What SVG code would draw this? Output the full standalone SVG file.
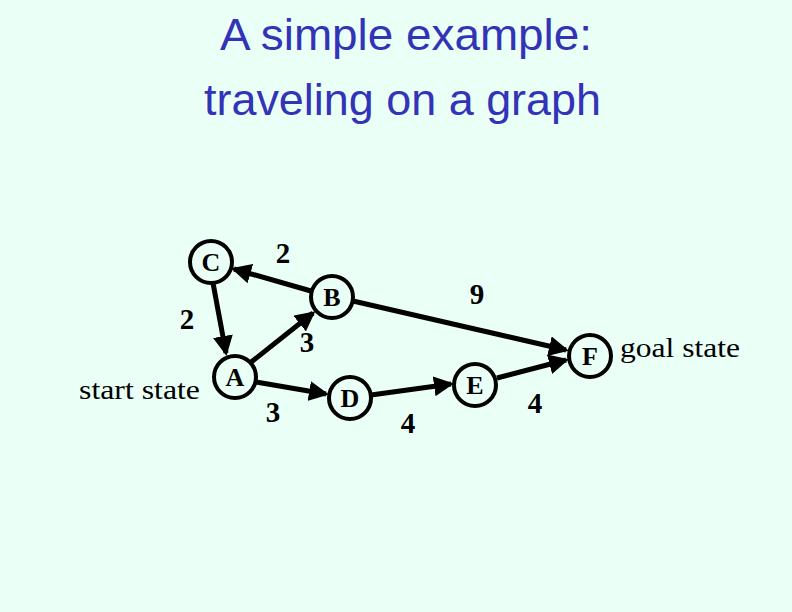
<svg xmlns="http://www.w3.org/2000/svg" width="792" height="612" viewBox="0 0 792 612">
<style>
.title{font-family:"Liberation Sans",Arial,sans-serif;font-size:44px;fill:#3333b8;text-anchor:middle}
.node circle{fill:none;stroke:#000;stroke-width:4}
.node text{font-family:"Liberation Serif","Times New Roman",serif;font-size:26px;font-weight:bold;text-anchor:middle;fill:#000}
.edge{stroke:#000;stroke-width:5;fill:none;marker-end:url(#ah)}
.w{font-family:"Liberation Serif","Times New Roman",serif;font-size:29px;font-weight:bold;text-anchor:middle;fill:#000}
.lbl{font-family:"Liberation Serif","Times New Roman",serif;font-size:28px;fill:#000}
</style>
<defs>
<marker id="ah" markerWidth="4" markerHeight="4" refX="3.4" refY="2" orient="auto" markerUnits="strokeWidth">
<path d="M0,0 L4,2 L0,4 z" fill="#000"/>
</marker>
</defs>
<rect width="792" height="612" fill="#eafff6"/>
<text class="title" x="406" y="50" textLength="372" lengthAdjust="spacingAndGlyphs">A simple example:</text>
<text class="title" x="402.5" y="115" textLength="397" lengthAdjust="spacingAndGlyphs">traveling on a graph</text>
<g id="connectors">
<line class="edge" x1="311" y1="291" x2="234" y2="269"/>
<line class="edge" x1="213" y1="283" x2="226" y2="353"/>
<line class="edge" x1="250" y1="363" x2="313" y2="313"/>
<line class="edge" x1="256" y1="382" x2="326" y2="394"/>
<line class="edge" x1="371" y1="395" x2="451" y2="384"/>
<line class="edge" x1="497" y1="378" x2="566" y2="360"/>
<line class="edge" x1="353" y1="301" x2="566" y2="350"/>
</g>
<g id="node-C" class="node"><circle cx="211" cy="262" r="21"/><text x="211" y="271">C</text></g>
<g id="node-B" class="node"><circle cx="332" cy="297" r="21"/><text x="332" y="306">B</text></g>
<g id="node-A" class="node"><circle cx="235" cy="377" r="21"/><text x="235" y="386">A</text></g>
<g id="node-D" class="node"><circle cx="350" cy="398" r="21"/><text x="350" y="407">D</text></g>
<g id="node-E" class="node"><circle cx="475" cy="385" r="21"/><text x="475" y="394">E</text></g>
<g id="node-F" class="node"><circle cx="590" cy="356" r="21"/><text x="590" y="365">F</text></g>
<text class="w" x="283" y="263">2</text>
<text class="w" x="187" y="329">2</text>
<text class="w" x="307" y="352">3</text>
<text class="w" x="273" y="422">3</text>
<text class="w" x="477" y="304">9</text>
<text class="w" x="408" y="433">4</text>
<text class="w" x="535" y="413">4</text>
<text class="lbl" x="79" y="399" textLength="121" lengthAdjust="spacingAndGlyphs">start state</text>
<text class="lbl" x="620" y="357" textLength="120" lengthAdjust="spacingAndGlyphs">goal state</text>
</svg>
